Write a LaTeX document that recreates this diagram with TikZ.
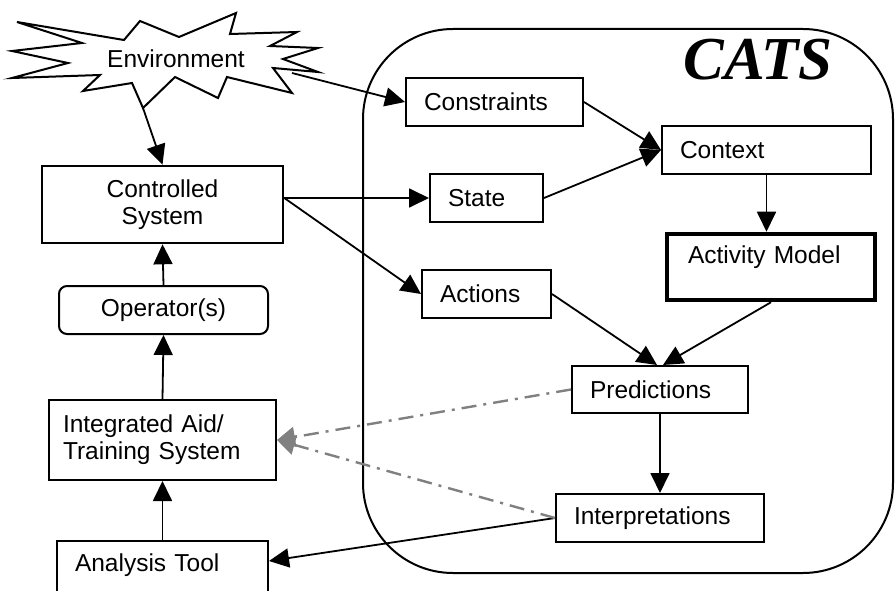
\documentclass[tikz,border=0pt]{standalone}
\usepackage{fontspec}
\usepackage{tikz}
\usetikzlibrary{arrows.meta}
\setmainfont{Liberation Sans}
\newfontfamily\catsfont{Liberation Serif}

\tikzset{
  box/.style={draw, line width=2pt, minimum height=48pt, align=left, inner xsep=18pt, font=\fontsize{24.5}{27}\selectfont},
  flecha/.style={line width=1.8pt, -{Triangle[length=20pt, width=19pt]}},
  gris/.style={gray, line width=2.4pt, dash pattern=on 15pt off 7pt on 3pt off 7pt, -{Triangle[length=18pt, width=20pt]}}
}

\begin{document}
\begin{tikzpicture}[x=1pt, y=-1pt]
\useasboundingbox (0,0) rectangle (895,591);

% Marco CATS
\draw[line width=2pt, rounded corners=90pt] (363,29) rectangle (893,573);
\node[font=\catsfont\fontsize{61}{61}\selectfont\bfseries\itshape] (cats) at (758,60) {CATS};

% Entorno
\draw[line width=2pt, fill=white] (17,22) -- (124,40) -- (140,21) -- (179,37) -- (236,13) -- (230,34)
  -- (297,32) -- (270,46) -- (318,48) -- (283,59) -- (318,72) -- (273,68) -- (292,93) -- (227,77)
  -- (218,98) -- (175,77) -- (143,108) -- (132,83) -- (83,91) -- (100,75) -- (12,78) -- (68,63)
  -- (12,51) -- (82,43) -- cycle;
\node[font=\fontsize{24.5}{27}\selectfont] (env) at (176,59) {Environment};
\coordinate (envS) at (143,108);
\coordinate (envE) at (292,73);

% Lado izquierdo
\node[box, line width=2.6pt, minimum width=241pt, minimum height=77pt, align=center] (ctrl) at (162.5,204.5) {Controlled\\System};
\node[box, rounded corners=8pt, minimum width=209pt, align=center] (oper) at (163.5,310) {Operator(s)};
\node[box, minimum width=227pt, minimum height=80pt, text width=199pt, inner xsep=14pt] (integ) at (162.5,440) {Integrated Aid/\\Training System};
\node[box, minimum width=211pt, minimum height=59pt, text width=175pt, text depth=16pt] (anal) at (162.5,570.5) {Analysis Tool};

% Dentro de CATS
\node[box, minimum width=177pt, text width=141pt] (cons) at (494.5,102) {Constraints};
\node[box, minimum width=209pt, text width=173pt] (ctx) at (766.5,150) {Context};
\node[box, minimum width=113pt, text width=77pt] (state) at (486.5,198) {State};
\node[box, line width=4.5pt, minimum width=208pt, minimum height=66pt, text width=166pt, inner xsep=21pt, text depth=24pt] (actm) at (771,267) {Activity Model};
\node[box, minimum width=129pt, text width=93pt] (act) at (486.5,294) {Actions};
\node[box, minimum width=176pt, minimum height=47pt, text width=140pt] (pred) at (660,389.5) {Predictions};
\node[box, minimum width=208pt, text width=172pt] (interp) at (660,518) {Interpretations};

% Conexiones
\draw[flecha] (envS) -- (ctrl.north);
\draw[flecha] (envE) -- (cons.west);
\draw[flecha] (state.west -| ctrl.east) -- (state.west);
\draw[flecha] (state.west -| ctrl.east) -- (act.west);
\draw[flecha] (cons.east) -- (ctx.west);
\draw[flecha] (state.east) -- (ctx.west);
\draw[flecha] (ctx.south) -- (ctx.south |- actm.north);
\draw[flecha] (act.east) -- ([xshift=-3pt]pred.north);
\draw[flecha] (actm.south) -- ([xshift=3pt]pred.north);
\draw[flecha] (pred.south) -- (interp.north);
\draw[flecha] (interp.west) -- ([yshift=-21pt]anal.north east);
\draw[flecha] (anal.north) -- (integ.south);
\draw[flecha] (integ.north) -- (oper.south);
\draw[flecha] (oper.north) -- (ctrl.south);

% Retroalimentacion
\draw[gris] (pred.west) -- (integ.east);
\draw[gris] (interp.west) -- (integ.east);
\end{tikzpicture}
\end{document}
